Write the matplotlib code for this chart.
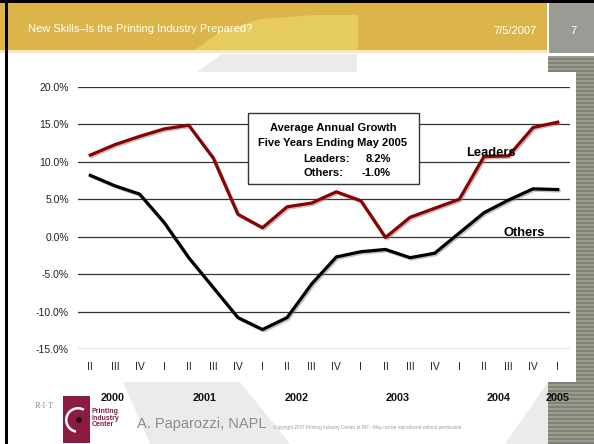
import numpy as np
import matplotlib
matplotlib.use('Agg')

import matplotlib.pyplot as plt
from matplotlib.patches import Rectangle, Polygon, Circle, Wedge
import matplotlib.patheffects as pe

plt.rcParams['font.family'] = ['Liberation Sans', 'DejaVu Sans']

quarters = ['II', 'III', 'IV', 'I', 'II', 'III', 'IV', 'I', 'II', 'III',
            'IV', 'I', 'II', 'III', 'IV', 'I', 'II', 'III', 'IV', 'I']
years = ['2000', '2001', '2002', '2003', '2004', '2005']
leaders = [10.9, 12.3, 13.4, 14.4, 14.9, 10.5, 3.0, 1.2, 4.0, 4.5,
           6.0, 4.8, -0.1, 2.6, 3.8, 5.0, 10.7, 10.8, 14.6, 15.3]
others = [8.2, 6.8, 5.7, 1.9, -2.8, -6.8, -10.8, -12.4, -10.8, -6.3,
          -2.7, -2.0, -1.7, -2.8, -2.2, 0.5, 3.2, 4.9, 6.4, 6.3]
yticks = [-15, -10, -5, 0, 5, 10, 15, 20]

W, H = 594, 444
fig = plt.figure(figsize=(W / 100, H / 100), dpi=100)
fig.patch.set_facecolor('white')


def px(x, y):
    return x / W, 1 - y / H


# background in pixel coordinates
bg = fig.add_axes([0, 0, 1, 1], zorder=-1)
bg.set_xlim(0, W)
bg.set_ylim(H, 0)
bg.axis('off')

# striped panel on the right
n = 2 * 97
stripes = np.zeros((n, 1, 3))
stripes[0::2] = matplotlib.colors.to_rgb('#9d9d8b')
stripes[1::2] = matplotlib.colors.to_rgb('#80817a')
bg.imshow(stripes, extent=[548, 594, 444, 57], aspect='auto', interpolation='nearest')

# light gray swooshes
for pts in [[(222, 54), (357, 54), (357, 72), (197, 72)],
            [(123, 382), (240, 382), (290, 444), (150, 444)],
            [(548, 382), (548, 444), (505, 444)]]:
    bg.add_patch(Polygon(pts, closed=True, fc='#ebebeb', ec='none'))

# white chart area
bg.add_patch(Rectangle((8, 72), 568, 310, fc='white', ec='none'))

# header
bg.add_patch(Rectangle((0, 0), 547, 51, fc='#dbb549', ec='none'))
bg.add_patch(Polygon([(193, 51), (220, 32), (260, 19), (315, 15), (358, 15), (358, 51)],
                     closed=True, fc='#e6cb5e', ec='none'))
bg.add_patch(Rectangle((0, 50), 547, 3, fc='#f4e8b8', ec='none'))
bg.add_patch(Rectangle((549, 0), 45, 53, fc='#999c94', ec='none'))
bg.add_patch(Rectangle((0, 0), W, 3, fc='black', ec='none'))
bg.add_patch(Rectangle((5, 0), 3, H, fc='black', ec='none'))

bg.text(28, 29, 'New Skills\u2013Is the Printing Industry Prepared?', color='white',
        fontsize=8, va='center', ha='left')
bg.text(537, 31, '7/5/2007', color='white', fontsize=8, va='center', ha='right')
bg.text(573, 31, '7', color='white', fontsize=8, va='center', ha='center')

# RIT logo
bg.text(35, 406, 'R\u00b7I\u00b7T', color='#8a8a8a', fontsize=6, family='Liberation Serif',
        va='center', ha='left')
bg.add_patch(Rectangle((63, 396), 27, 47, fc='#8b1c3f', ec='none'))
bg.add_patch(Wedge((78, 420), 13, 100, 300, width=2.5, fc='white', ec='none'))
bg.add_patch(Circle((79, 420), 3, fc='#2a0a14', ec='none'))
bg.text(92, 418, 'Printing\nIndustry\nCenter', color='#8b1c3f', fontsize=5, fontweight='bold',
        va='center', ha='left', linespacing=0.95)

bg.text(137, 424, 'A. Paparozzi, NAPL', color='#8c8c8c', fontsize=10.5, va='center', ha='left')
bg.text(273, 427, 'Copyright 2007 Printing Industry Center at RIT\u2013 May not be reproduced without permission.',
        color='#9a9a9a', fontsize=3.3, va='center', ha='left')

# chart
ax = fig.add_axes([78 / W, 1 - 349 / H, 492 / W, 262 / H])
ax.patch.set_alpha(0)
x = np.arange(len(quarters))
ax.set_xlim(-0.5, len(quarters) - 0.5)
ax.set_ylim(-15, 20)
for v in yticks:
    ax.axhline(v, color='#333333', lw=0.9, zorder=1)

shadow = [pe.SimpleLineShadow(offset=(1, -1), shadow_color='gray', alpha=0.5), pe.Normal()]
ax.plot(x, leaders, color='#8b0000', lw=2.3, zorder=3, path_effects=shadow, clip_on=False)
ax.plot(x, others, color='black', lw=2.3, zorder=3, path_effects=shadow, clip_on=False)

for s in ax.spines.values():
    s.set_visible(False)
ax.set_yticks(yticks)
ax.set_yticklabels(['{:.1f}%'.format(v) for v in yticks], fontsize=7.5, color='#222222')
ax.set_xticks(x)
ax.set_xticklabels(quarters, fontsize=7.5, color='#222222')
ax.tick_params(axis='y', length=0, pad=6.5)
ax.tick_params(axis='x', length=0, pad=9)

year_x = [0.9, 4.65, 8.4, 12.5, 16.6, 19.0]
for xx, yr in zip(year_x, years):
    ax.annotate(yr, xy=(xx, -15), xycoords='data', xytext=(0, -35), textcoords='offset points',
                ha='center', va='center', fontsize=7.8, fontweight='bold', color='#111111')

# annotation box
fig.add_artist(Rectangle(px(248, 184), 171 / W, 71 / H, transform=fig.transFigure,
                         fc='white', ec='#333333', lw=1, zorder=5))
fig.text(*px(333, 128), 'Average Annual Growth', ha='center', va='center',
         fontsize=8, fontweight='bold', zorder=6)
fig.text(*px(333, 143), 'Five Years Ending May 2005', ha='center', va='center',
         fontsize=8, fontweight='bold', zorder=6)
fig.text(*px(303, 159), 'Leaders:', ha='left', va='center', fontsize=8, fontweight='bold', zorder=6)
fig.text(*px(391, 159), '8.2%', ha='right', va='center', fontsize=8, fontweight='bold', zorder=6)
fig.text(*px(303, 173), 'Others:', ha='left', va='center', fontsize=8, fontweight='bold', zorder=6)
fig.text(*px(391, 173), '-1.0%', ha='right', va='center', fontsize=8, fontweight='bold', zorder=6)

fig.text(*px(491, 153), 'Leaders', ha='center', va='center', fontsize=9.3, fontweight='bold', zorder=6)
fig.text(*px(524, 233), 'Others', ha='center', va='center', fontsize=9.3, fontweight='bold', zorder=6)

plt.savefig('out.png', dpi=100)
